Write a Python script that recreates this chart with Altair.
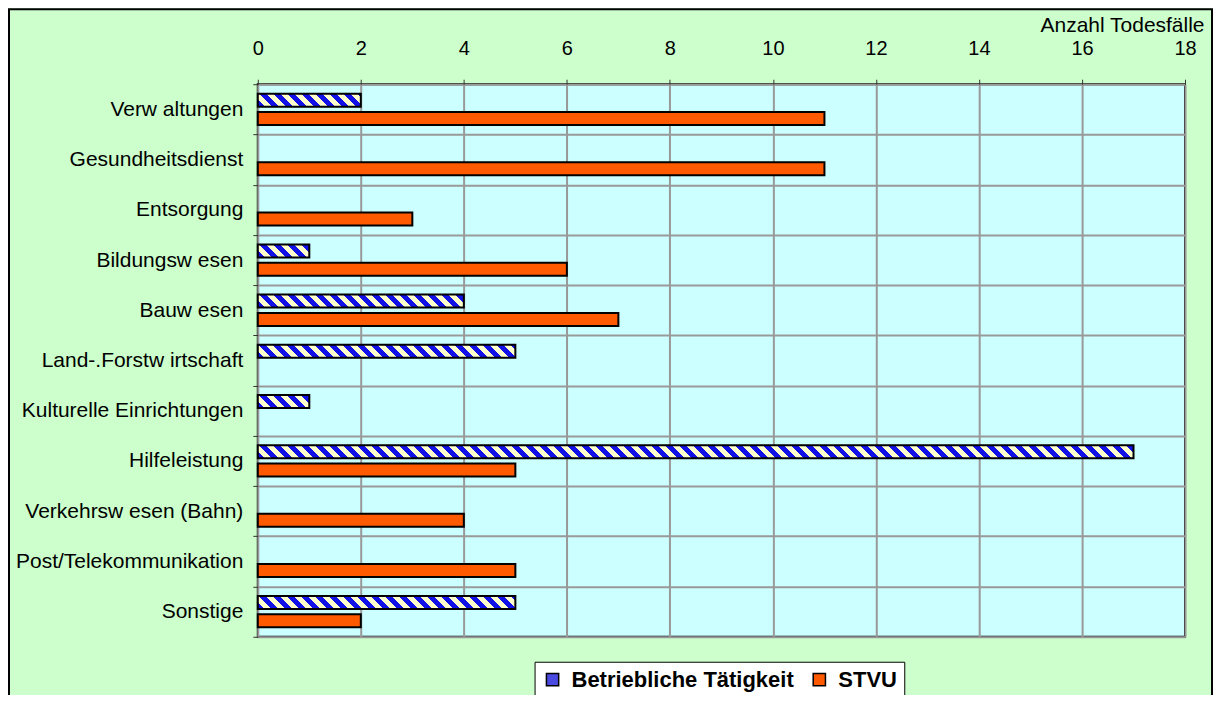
import altair as alt
import pandas as pd

# ---- data -------------------------------------------------------------
categories = ["Verw altungen", "Gesundheitsdienst", "Entsorgung", "Bildungsw esen",
              "Bauw esen", "Land-.Forstw irtschaft", "Kulturelle Einrichtungen",
              "Hilfeleistung", "Verkehrsw esen (Bahn)", "Post/Telekommunikation",
              "Sonstige"]
series = ["Betriebliche Tätigkeit", "STVU"]
betrieb = [2, 0, 0, 1, 4, 5, 1, 17, 0, 0, 5]
stvu = [11, 11, 3, 6, 7, 0, 0, 5, 4, 5, 2]
x_ticks = [0, 2, 4, 6, 8, 10, 12, 14, 16, 18]
x_title = "Anzahl Todesfälle"

rows = []
for c, b, s in zip(categories, betrieb, stvu):
    rows.append({"category": c, "series": series[0], "value": b})
    rows.append({"category": c, "series": series[1], "value": s})
df = pd.DataFrame(rows)

# ---- styling ----------------------------------------------------------
FONT = "Liberation Sans"
PLOT_W, PLOT_H = 928, 553
PX_PER_UNIT = PLOT_W / 18
BAR_H = 13
BLUE, CREAM = "#1212E8", "#FFFFCC"
ORANGE = "#FF5A00"


def hatch(w, h, period=14.0):
    """Diagonal '\\' stripes as a linear gradient in bounding-box units."""
    L = w + h
    c = L / (w * w + h * h)
    stops = []
    k = 0
    while k * period / L < 1:
        s = k * period / L
        m = (k * period + period / 2) / L
        e = (k + 1) * period / L
        for off, col in ((s, BLUE), (m, BLUE), (m, CREAM), (e, CREAM)):
            stops.append({"offset": round(min(off, 1.0), 5), "color": col})
        k += 1
    return {"gradient": "linear", "x1": 0, "y1": 1,
            "x2": round(c * w, 5), "y2": round(1 - c * h, 5), "stops": stops}


conds = [
    {"test": f"datum.series === '{series[0]}' && datum.value === {v}",
     "value": hatch(v * PX_PER_UNIT, BAR_H)}
    for v in sorted(set(b for b in betrieb if b > 0))
]

legend = alt.Legend(
    title=None, orient="none", legendX=277, legendY=578, direction="horizontal",
    fillColor="white", strokeColor="black", padding=7,
    symbolType="square", symbolSize=150, symbolStrokeColor="black",
    symbolStrokeWidth=1.5, symbolOpacity=1, labelFontSize=22, labelFontWeight="bold",
    labelFont=FONT, labelColor="black", labelOffset=8, columnPadding=14,
    labelLimit=400,
)

bars = alt.Chart(df).transform_filter("datum.value > 0").mark_bar(
    stroke="black", strokeWidth=2
).encode(
    x=alt.X("value:Q",
            scale=alt.Scale(domain=[0, 18], nice=False, zero=True),
            axis=alt.Axis(orient="top", values=x_ticks, title=x_title,
                          titleX=947, titleY=-53, titleAlign="right",
                          titleBaseline="alphabetic", titleAngle=0,
                          titleFontSize=21, titleFontWeight="normal",
                          titleFont=FONT, titleColor="black",
                          labelFontSize=20, labelFont=FONT, labelColor="black",
                          labelPadding=21, labelFlush=False, tickSize=5,
                          tickColor="#333333", domain=False, grid=True,
                          gridColor="#999999", gridWidth=2)),
    y=alt.Y("category:N", sort=categories,
            scale=alt.Scale(paddingInner=0, paddingOuter=0),
            axis=alt.Axis(title=None, tickBand="extent", tickSize=5,
                          tickColor="#333333", labelPadding=10,
                          labelFontSize=21, labelFont=FONT, labelColor="black",
                          labelLimit=400, domain=False, grid=True,
                          gridColor="#999999", gridWidth=2)),
    yOffset=alt.YOffset("series:N",
                        scale=alt.Scale(domain=series, paddingInner=0.29,
                                        paddingOuter=0.518)),
    fill=alt.Fill("series:N",
                  scale=alt.Scale(domain=series, range=["#4A4AE0", ORANGE]),
                  legend=legend, condition=conds),
)

frame = alt.Chart(pd.DataFrame({"k": [0]})).mark_rect(
    filled=False, stroke="black", strokeWidth=2
).encode(
    x=alt.value(-249), x2=alt.value(PLOT_W + 27),
    y=alt.value(-75), y2=alt.value(PLOT_H + 80),
)

chart = alt.layer(bars, frame).properties(
    width=PLOT_W, height=PLOT_H,
    padding={"left": 250, "top": 76, "right": 28, "bottom": 58},
    autosize=alt.AutoSizeParams(type="none"),
    background="#CCFFCC",
).configure_view(
    fill="#CCFFFF", stroke="black", strokeWidth=2
)

chart.save("out.html", embed_options={"renderer": "svg", "actions": False})
